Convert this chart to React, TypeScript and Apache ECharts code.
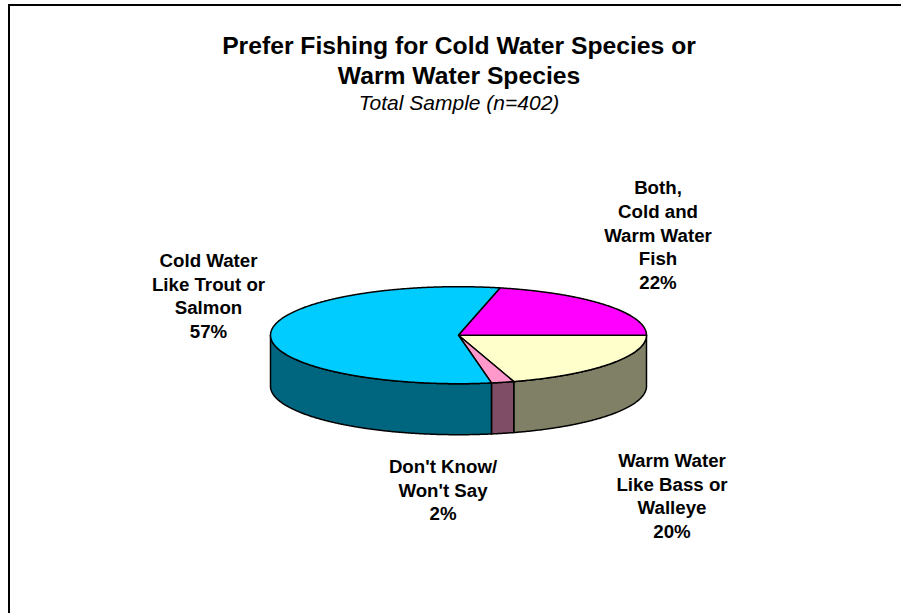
import React, { useEffect, useRef } from "react";
import * as echarts from "echarts";

const FONT = '"Liberation Sans", Arial, sans-serif';

// Slices clockwise from the 3 o'clock position
const categories = [
  "Warm Water\nLike Bass or\nWalleye",
  "Don't Know/\nWon't Say",
  "Cold Water\nLike Trout or\nSalmon",
  "Both,\nCold and\nWarm Water\nFish",
];
const shares = [20.3, 1.95, 56.5, 21.5];
const percentLabels = ["20%", "2%", "57%", "22%"];
const topColors = ["#FFFFCC", "#FF99CC", "#00CCFF", "#FF00FF"];
const wallColors = ["#808066", "#804D66", "#006680", "#808080"];
const labelCentres = [
  [672, 496],
  [443, 490],
  [208.5, 296],
  [658, 235],
];

const titleLines = "Prefer Fishing for Cold Water Species or\nWarm Water Species";
const subtitle = "Total Sample (n=402)";

const CX = 458.5;
const CY = 335.2;
const RX = 188;
const RY = 48.5;
const DEPTH = 51;

const pt = (deg: number, dy = 0) => {
  const a = (deg * Math.PI) / 180;
  return [CX + RX * Math.cos(a), CY + RY * Math.sin(a) + dy];
};

const arc = (from: number, to: number, dy = 0) => {
  const out: number[][] = [];
  const n = Math.max(2, Math.ceil((to - from) * 3));
  for (let i = 0; i <= n; i++) out.push(pt(from + ((to - from) * i) / n, dy));
  return out;
};

const total = shares.reduce((s, v) => s + v, 0);

const renderWall = (params: any, api: any) => {
  const i = params.dataIndex;
  const before = shares.slice(0, i).reduce((s, v) => s + v, 0);
  const start = (before / total) * 360;
  const end = start + (api.value(0) / total) * 360;
  const from = Math.max(start, 0);
  const to = Math.min(end, 180);
  if (to <= from) return { type: "group", children: [] };
  const points = [...arc(from, to, 0), ...arc(from, to, DEPTH).reverse()];
  return {
    type: "polygon",
    shape: { points },
    style: { fill: wallColors[i], stroke: "#000", lineWidth: 1.5, lineJoin: "round" },
  };
};

const renderTop = (params: any, api: any) => {
  const i = params.dataIndex;
  const before = shares.slice(0, i).reduce((s, v) => s + v, 0);
  const start = (before / total) * 360;
  const end = start + (api.value(0) / total) * 360;
  const points = [[CX, CY], ...arc(start, end)];
  return {
    type: "polygon",
    shape: { points },
    style: { fill: topColors[i], stroke: "#000", lineWidth: 1.5, lineJoin: "round" },
  };
};

export default function App() {
  const ref = useRef<HTMLDivElement>(null);
  useEffect(() => {
    const chart = echarts.init(ref.current!, null, { renderer: "svg" });
    const values = shares.map((v) => [v]);
    chart.setOption({
      animation: false,
      backgroundColor: "#ffffff",
      series: [
        { type: "custom", coordinateSystem: "none", renderItem: renderWall, data: values, z: 1, silent: true },
        { type: "custom", coordinateSystem: "none", renderItem: renderTop, data: values, z: 2, silent: true },
      ],
      graphic: [
        {
          type: "polyline",
          shape: { points: [[9, 613], [9, 5], [901, 5]] },
          style: { fill: "none", stroke: "#000", lineWidth: 2 },
          z: 3,
        },
        {
          type: "text",
          x: 459,
          y: 60,
          z: 3,
          style: {
            text: titleLines,
            font: `bold 24.7px ${FONT}`,
            fill: "#000",
            align: "center",
            verticalAlign: "middle",
            lineHeight: 30,
          },
        },
        {
          type: "text",
          x: 459,
          y: 102,
          z: 3,
          style: {
            text: subtitle,
            font: `italic 21px ${FONT}`,
            fill: "#000",
            align: "center",
            verticalAlign: "middle",
          },
        },
        ...categories.map((c, i) => ({
          type: "text",
          x: labelCentres[i][0],
          y: labelCentres[i][1],
          z: 3,
          style: {
            text: `${c}\n${percentLabels[i]}`,
            font: `bold 18.7px ${FONT}`,
            fill: "#000",
            align: "center",
            verticalAlign: "middle",
            lineHeight: 23.7,
          },
        })),
      ],
    });
    return () => chart.dispose();
  }, []);
  return <div ref={ref} style={{ position: "fixed", left: 0, top: 0, width: 901, height: 613 }} />;
}
